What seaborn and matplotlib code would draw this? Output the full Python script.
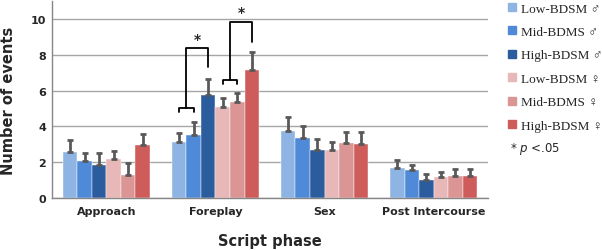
import matplotlib
matplotlib.use("Agg")
import matplotlib.pyplot as plt
from matplotlib.lines import Line2D
import seaborn as sns
import pandas as pd
import numpy as np

phases = ["Approach", "Foreplay", "Sex", "Post Intercourse"]
groups = ["Low-BDSM \u2642", "Mid-BDMS \u2642", "High-BDSM \u2642",
          "Low-BDSM \u2640", "Mid-BDMS \u2640", "High-BDSM \u2640"]
colors = ["#8EB4E3", "#4F8AD9", "#2B5C9E", "#E8B7B7", "#DA9594", "#CD5C5A"]

# mean number of events, one list per group (phases in order)
low_m = [2.58, 3.11, 3.76, 1.66]
mid_m = [2.08, 3.54, 3.33, 1.55]
high_m = [1.84, 5.74, 2.68, 1.02]
low_f = [2.17, 5.07, 2.68, 1.17]
mid_f = [1.30, 5.36, 3.07, 1.25]
high_f = [2.97, 7.15, 3.02, 1.21]

# upper error (top of the whisker minus the mean)
err_low_m = [0.66, 0.50, 0.76, 0.48]
err_mid_m = [0.44, 0.72, 0.70, 0.31]
err_high_m = [0.70, 0.90, 0.61, 0.34]
err_low_f = [0.45, 0.50, 0.47, 0.30]
err_mid_f = [0.68, 0.49, 0.63, 0.37]
err_high_f = [0.60, 1.00, 0.66, 0.41]

means = [low_m, mid_m, high_m, low_f, mid_f, high_f]
errs = [err_low_m, err_mid_m, err_high_m, err_low_f, err_mid_f, err_high_f]

df = pd.DataFrame({
    "phase": np.tile(phases, len(groups)),
    "group": np.repeat(groups, len(phases)),
    "events": np.concatenate(means),
    "err": np.concatenate(errs),
})

sns.set_style("white")
fig = plt.figure(figsize=(6.02, 2.51), dpi=100)
ax = fig.add_axes([0.086, 0.207, 0.725, 0.785])

ax.yaxis.grid(True, color="#A6A6A6", lw=1)
ax.set_axisbelow(True)
sns.barplot(data=df, x="phase", y="events", hue="group", order=phases,
            hue_order=groups, palette=colors, errorbar=None, width=0.8,
            saturation=1, legend=False, ax=ax, edgecolor="white", linewidth=0.3)

# one-sided error bars, taken from the bar positions seaborn chose
bar_x = {}
for g, cont in zip(groups, ax.containers):
    sub = df[df.group == g].set_index("phase").loc[phases]
    xs = [p.get_x() + p.get_width() / 2 for p in cont.patches]
    hs = [p.get_height() for p in cont.patches]
    bar_x[g] = xs
    ax.errorbar(xs, hs, yerr=[np.zeros(len(xs)), sub["err"].values], fmt="none",
                ecolor="#595959", elinewidth=2, capsize=2.5, capthick=2, zorder=3)

ax.set_ylim(0, 11)
ax.set_xlim(-0.5, 3.5)
ax.set_yticks([0, 2, 4, 6, 8, 10])
ax.tick_params(axis="y", length=0, labelsize=8, pad=4)
ax.tick_params(axis="x", length=0, labelsize=8, pad=6)
ax.set_xticks(np.arange(-0.5, 4, 1), minor=True)
ax.tick_params(axis="x", which="minor", length=4, color="#868686", direction="out")
for lab in ax.get_xticklabels() + ax.get_yticklabels():
    lab.set_fontweight("bold")
for s in ["top", "right"]:
    ax.spines[s].set_visible(False)
for s in ["left", "bottom"]:
    ax.spines[s].set_color("#868686")
    ax.spines[s].set_linewidth(1)
ax.set_xlabel("Script phase", fontsize=10.5, fontweight="bold", labelpad=12)
ax.set_ylabel("Number of events", fontsize=10.5, fontweight="bold", labelpad=11)


def bracket(x1, x2, x3, y_cup, y_top, y_end, ax):
    xm = (x1 + x2) / 2
    d = 0.25
    ax.plot([x1, x1, x2, x2], [y_cup - d, y_cup, y_cup, y_cup - d], color="black", lw=1.3)
    ax.plot([xm, xm, x3, x3], [y_cup, y_top, y_top, y_end], color="black", lw=1.3)
    ax.text((xm + x3) / 2, y_top + 0.15, "*", ha="center", va="bottom",
            fontsize=10, fontweight="bold")


fp = phases.index("Foreplay")
bracket(bar_x[groups[0]][fp], bar_x[groups[1]][fp], bar_x[groups[2]][fp],
        5.05, 8.35, 7.3, ax)
bracket(bar_x[groups[3]][fp], bar_x[groups[4]][fp], bar_x[groups[5]][fp],
        6.6, 9.85, 8.7, ax)

handles = [Line2D([], [], marker="s", ls="none", color=c, markersize=5.5) for c in colors]
leg = fig.legend(handles, groups, loc="upper left", bbox_to_anchor=(0.835, 1.008),
                 frameon=False, handlelength=0.6, handletextpad=0.4,
                 labelspacing=0.85, borderaxespad=0,
                 prop={"family": ["Liberation Serif", "DejaVu Sans"], "size": 9.5})
fig.text(0.848, 0.406, "* $\\it{p}$ <.05", fontsize=8.5, family="DejaVu Sans", va="center")

fig.savefig("out.png", dpi=100)
